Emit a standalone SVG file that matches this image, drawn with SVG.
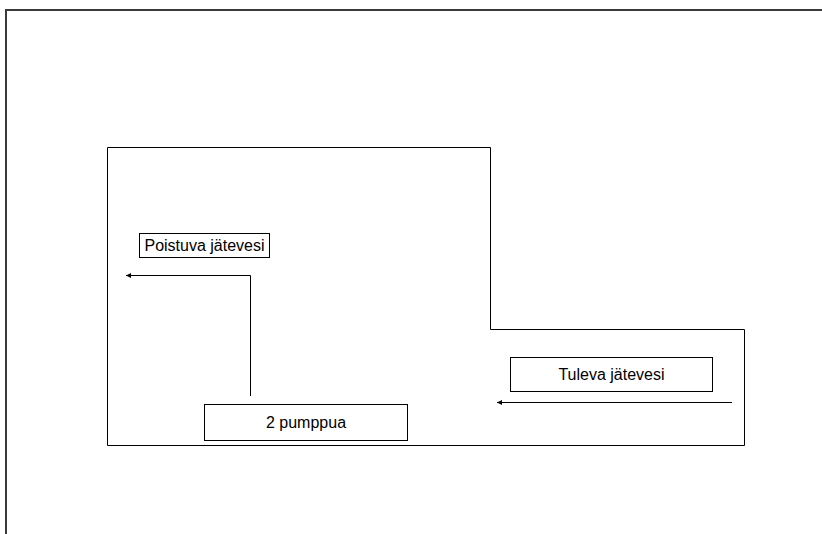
<svg xmlns="http://www.w3.org/2000/svg" width="822" height="534" viewBox="0 0 822 534">
<style>
.frame{fill:none;stroke:#3a3a3a;stroke-width:2}
.wall{fill:none;stroke:#000;stroke-width:1}
.box{fill:#fff;stroke:#000;stroke-width:1}
.lbl{font-family:"Liberation Sans",Arial,sans-serif;font-size:16px;fill:#000;text-anchor:middle;dominant-baseline:central}
.conn{fill:none;stroke:#000;stroke-width:1}
</style>
<defs>
<marker id="ah" viewBox="0 0 10 10" refX="10" refY="5" markerWidth="7" markerHeight="5" orient="auto" markerUnits="userSpaceOnUse">
<path d="M0,0 L10,5 L0,10 Z" fill="#000"/>
</marker>
</defs>
<rect width="822" height="534" fill="#fff"/>
<path class="frame" d="M6,534 V10 H822"/>
<path class="wall" d="M107.5,147.5 H490.5 V329.5 H744.5 V445.5 H107.5 Z"/>
<g id="connectors">
<path class="conn" d="M250.5,396 V275.5 H126" marker-end="url(#ah)"/>
<path class="conn" d="M732,402.5 H497" marker-end="url(#ah)"/>
</g>
<g id="node-poistuva">
<rect class="box" x="139.5" y="233.5" width="130" height="24"/>
<text class="lbl" x="204.5" y="245.5">Poistuva jätevesi</text>
</g>
<g id="node-pumppua">
<rect class="box" x="204.5" y="404.5" width="203" height="36"/>
<text class="lbl" x="306" y="422.5">2 pumppua</text>
</g>
<g id="node-tuleva">
<rect class="box" x="510.5" y="357.5" width="202" height="34"/>
<text class="lbl" x="611.5" y="374.5">Tuleva jätevesi</text>
</g>
</svg>
